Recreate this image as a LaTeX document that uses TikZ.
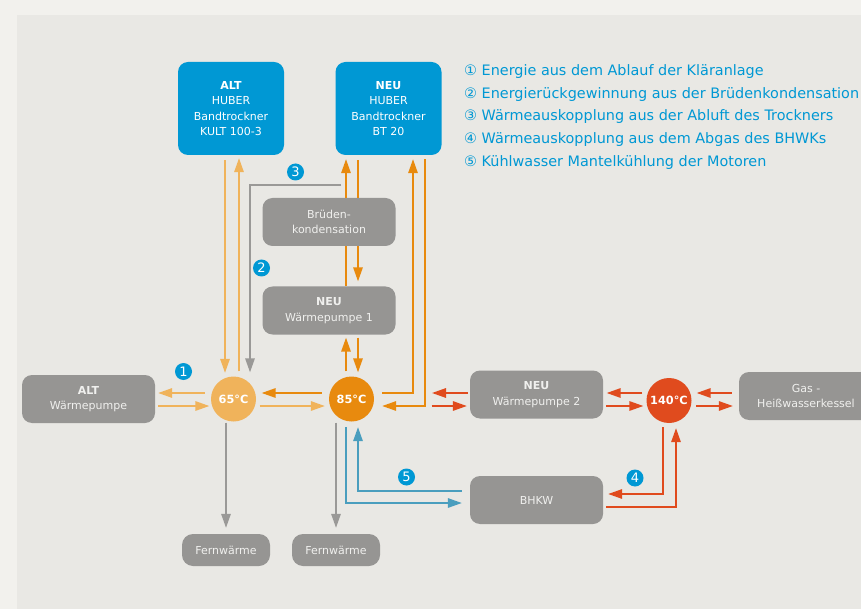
\documentclass[tikz,border=0pt]{standalone}
\usepackage{fontspec}
\setmainfont{DejaVu Sans}
\usetikzlibrary{arrows.meta}

\definecolor{hubblue}{HTML}{0098D4}
\definecolor{boxgray}{HTML}{969593}
\definecolor{boxtext}{HTML}{F0F0EE}
\definecolor{lightorange}{HTML}{F0B35B}
\definecolor{darkorange}{HTML}{E88A0E}
\definecolor{hotred}{HTML}{E04B1E}
\definecolor{coolblue}{HTML}{4A9EBE}
\definecolor{linegray}{HTML}{9A9997}
\definecolor{paneback}{HTML}{E9E8E4}
\definecolor{pageback}{HTML}{F2F1ED}

\tikzset{
  hubbox/.style={fill=hubblue, rounded corners=10pt, text=white, align=center,
    minimum width=106pt, minimum height=93pt, font=\fontsize{11}{15.3}\selectfont},
  unitbox/.style={fill=boxgray, rounded corners=10pt, text=boxtext, align=center,
    minimum width=133pt, minimum height=48pt, font=\fontsize{11}{15.3}\selectfont},
  sinkbox/.style={fill=boxgray, rounded corners=11pt, text=boxtext,
    minimum width=88pt, minimum height=32pt, font=\fontsize{11}{13}\selectfont},
  tempnode/.style={circle, minimum size=45pt, inner sep=0pt, text=white,
    font=\bfseries\fontsize{11.3}{13}\selectfont},
  badge/.style={circle, fill=hubblue, text=white, minimum size=17pt, inner sep=0pt,
    font=\fontsize{13}{13}\selectfont},
  legend/.style={anchor=west, inner sep=0pt, text=hubblue, font=\fontsize{14.4}{16}\selectfont},
  flow/.style={line width=1.5pt, -{Triangle[length=14pt,width=9.5pt]}},
  plain/.style={line width=1.5pt},
}

\begin{document}
\begin{tikzpicture}[x=1pt, y=-1pt]
    \useasboundingbox (0,0) rectangle (861,609);
    \fill[pageback] (0,0) rectangle (861,609);
    \fill[paneback] (17,15) rectangle (861,609);

    % dryers
    \node[hubbox] (althub) at (231,108.5) {\textbf{ALT}\\HUBER\\Bandtrockner\\KULT 100-3};
    \node[hubbox] (neuhub) at (388.5,108.5) {\textbf{NEU}\\HUBER\\Bandtrockner\\BT 20};

    % legend
    \node[legend] (leg1) at (464,72) {① Energie aus dem Ablauf der Kläranlage};
    \node[legend] (leg2) at (464,94.5) {② Energierückgewinnung aus der Brüdenkondensation};
    \node[legend] (leg3) at (464,117) {③ Wärmeauskopplung aus der Abluft des Trockners};
    \node[legend] (leg4) at (464,140) {④ Wärmeauskopplung aus dem Abgas des BHWKs};
    \node[legend] (leg5) at (464,162.5) {⑤ Kühlwasser Mantelkühlung der Motoren};

    % units
    \node[unitbox] (brueden) at (329,222) {Brüden-\\kondensation};
    \node[unitbox] (wp1) at (329,310.5) {\textbf{NEU}\\Wärmepumpe 1};
    \node[unitbox] (altwp) at (88.5,399) {\textbf{ALT}\\Wärmepumpe};
    \node[unitbox] (wp2) at (536.5,394.5) {\textbf{NEU}\\Wärmepumpe 2};
    \node[unitbox, minimum width=134pt] (gas) at (806,396) {Gas -\\Heißwasserkessel};
    \node[unitbox] (bhkw) at (536.5,500) {BHKW};
    \node[sinkbox] (fern1) at (226,550) {Fernwärme};
    \node[sinkbox] (fern2) at (336,550) {Fernwärme};

    % temperature levels
    \node[tempnode, fill=lightorange] (c65) at (233.5,399) {65°C};
    \node[tempnode, fill=darkorange] (c85) at (351.5,399) {85°C};
    \node[tempnode, fill=hotred] (c140) at (669,400.5) {140°C};

    % numbers
    \node[badge] (n1) at (183.5,371.5) {1};
    \node[badge] (n2) at (261.5,268) {2};
    \node[badge] (n3) at (295.5,172) {3};
    \node[badge] (n4) at (635,478) {4};
    \node[badge] (n5) at (406.5,477) {5};

    % rows and columns of the pipes
    \coordinate (hi) at (0,393);
    \coordinate (lo) at (0,406);
    \coordinate (xa) at (225,0);
    \coordinate (xb) at (239,0);
    \coordinate (xg) at (250,0);
    \coordinate (xc) at (346,0);
    \coordinate (xd) at (358,0);
    \coordinate (xe) at (413,0);
    \coordinate (xf) at (425,0);
    \coordinate (xh) at (663,0);
    \coordinate (xi) at (676,0);
    \coordinate (abluft) at (341,185);

    % 65 degree loop
    \draw[flow, lightorange, shorten <=6pt, shorten >=3pt] (c65.west |- hi) -- (altwp.east |- hi);
    \draw[flow, lightorange, shorten <=3pt, shorten >=1.5pt] (altwp.east |- lo) -- (c65.west |- lo);
    \draw[flow, lightorange, shorten <=5pt, shorten >=3.5pt] (xa |- althub.south) -- (xa |- c65.north);
    \draw[flow, lightorange, shorten <=5pt, shorten >=3pt] (xb |- c65.north) -- (xb |- althub.south);
    \draw[flow, darkorange, shorten <=7pt, shorten >=5.5pt] (c85.west |- hi) -- (c65.east |- hi);
    \draw[flow, lightorange, shorten <=3.5pt, shorten >=4pt] (c65.east |- lo) -- (c85.west |- lo);
    \draw[flow, linegray, shorten >=4pt] (abluft) -| (xg |- c65.north);

    % 85 degree loop
    \draw[flow, darkorange, shorten <=5pt, shorten >=3pt] (xc |- c85.north) -- (xc |- wp1.south);
    \draw[flow, darkorange, shorten <=3pt, shorten >=4pt] (xd |- wp1.south) -- (xd |- c85.north);
    \draw[plain, darkorange] (xc |- wp1.north) -- (xc |- brueden.south);
    \draw[flow, darkorange, shorten >=5pt] (xd |- brueden.south) -- (xd |- wp1.north);
    \draw[flow, darkorange, shorten >=4pt] (xc |- brueden.north) -- (xc |- neuhub.south);
    \draw[plain, darkorange, shorten <=5pt] (xd |- neuhub.south) -- (xd |- brueden.north);
    \draw[flow, darkorange, shorten <=8pt, shorten >=4pt] (c85.east |- hi) -| (xe |- neuhub.south);
    \draw[flow, darkorange, shorten <=4pt, shorten >=8pt] (xf |- neuhub.south) |- (c85.east |- lo);

    % district heating
    \draw[flow, linegray, shorten <=1pt, shorten >=6pt] (fern1.north |- c65.south) -- (fern1.north);
    \draw[flow, linegray, shorten <=1pt, shorten >=6pt] (fern2.north |- c85.south) -- (fern2.north);

    % engine cooling water
    \draw[flow, coolblue, shorten <=5.5pt, shorten >=8pt] (xc |- c85.south) |- ([yshift=-3pt]bhkw.west);
    \draw[flow, coolblue, shorten <=8pt, shorten >=5.5pt] ([yshift=9pt]bhkw.west) -| (xd |- c85.south);

    % 140 degree loop
    \draw[flow, hotred, shorten <=2pt, shorten >=7pt] (wp2.west |- hi) -- (xf |- hi);
    \draw[flow, hotred, shorten <=6.5pt, shorten >=3pt] (xf |- lo) -- (wp2.west |- lo);
    \draw[flow, hotred, shorten <=4pt, shorten >=3.5pt] (c140.west |- hi) -- (wp2.east |- hi);
    \draw[flow, hotred, shorten <=3pt, shorten >=3pt] (wp2.east |- lo) -- (c140.west |- lo);
    \draw[flow, hotred, shorten <=7pt, shorten >=5pt] (gas.west |- hi) -- (c140.east |- hi);
    \draw[flow, hotred, shorten <=4.5pt, shorten >=6pt] (c140.east |- lo) -- (gas.west |- lo);
    \draw[flow, hotred, shorten <=4pt, shorten >=5pt] (xh |- c140.south) |- ([yshift=6pt]bhkw.east);
    \draw[flow, hotred, shorten <=3pt, shorten >=5pt] ([yshift=-7pt]bhkw.east) -| (xi |- c140.south);
\end{tikzpicture}
\end{document}
